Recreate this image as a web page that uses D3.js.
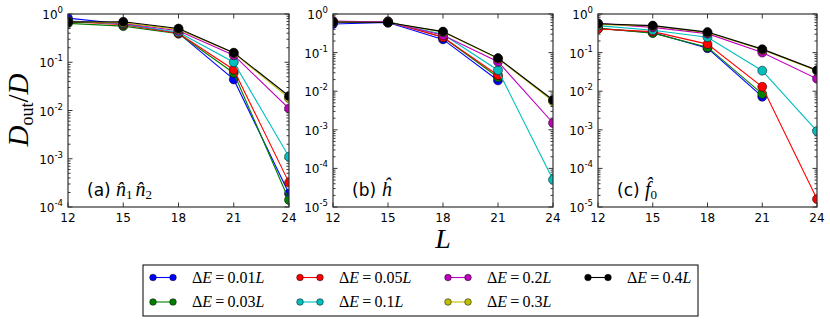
<!DOCTYPE html>
<html>
<head>
<meta charset="utf-8">
<script src="https://cdn.jsdelivr.net/npm/d3@7"></script>
<style>
  body { margin: 0; background: #fff; }
  svg { display: block; }
</style>
</head>
<body>
<div id="chart"></div>
<script>
// system sizes L on the x axis
var sizes = [12, 15, 18, 21, 24];

// legend labels (energy window) and colours
var windows = ["0.01", "0.03", "0.05", "0.1", "0.2", "0.3", "0.4"];
var colors  = ["#0000ff", "#008000", "#ff0000", "#00bfbf", "#bf00bf", "#bfbf00", "#000000"];

// panel (a) n1 n2
var dataA = [
  [0.82, 0.62, 0.40, 0.044, 1.9e-4],
  [0.64, 0.56, 0.39, 0.060, 1.4e-4],
  [0.70, 0.60, 0.40, 0.070, 3.2e-4],
  [0.72, 0.62, 0.42, 0.100, 1.1e-3],
  [0.70, 0.64, 0.45, 0.140, 0.011],
  [0.68, 0.66, 0.48, 0.155, 0.018],
  [0.68, 0.69, 0.50, 0.158, 0.020]
];
// panel (b) h
var dataB = [
  [0.55, 0.60, 0.22, 0.019, null],
  [0.60, 0.65, 0.25, 0.023, null],
  [0.62, 0.63, 0.25, 0.026, null],
  [0.62, 0.62, 0.30, 0.035, 5.1e-5],
  [0.66, 0.62, 0.28, 0.058, 0.0015],
  [0.62, 0.60, 0.34, 0.070, 0.0055],
  [0.62, 0.60, 0.35, 0.072, 0.0059]
];
// panel (c) f0
var dataC = [
  [0.42, 0.33, 0.130, 0.0072, null],
  [0.43, 0.32, 0.138, 0.0085, null],
  [0.41, 0.35, 0.166, 0.013, 1.6e-5],
  [0.50, 0.38, 0.250, 0.034, 9.3e-4],
  [0.57, 0.45, 0.310, 0.100, 0.021],
  [0.54, 0.49, 0.330, 0.118, 0.034],
  [0.56, 0.50, 0.340, 0.123, 0.035]
];

(function() {
  var panels = [
    { data: dataA, x0: 68,  x1: 289, minExp: -4, tag: "a" },
    { data: dataB, x0: 333, x1: 553, minExp: -5, tag: "b" },
    { data: dataC, x0: 598, x1: 817, minExp: -5, tag: "c" }
  ];

  var W = 830, H = 325;
  var plotTop = 14, plotBottom = 207;
  var sans = "'DejaVu Sans', sans-serif";
  var serif = "'Liberation Serif', 'DejaVu Serif', serif";

  var svg = d3.select("#chart").append("svg")
    .attr("width", W).attr("height", H);

  panels.forEach(function(p, pi) {
    var x = d3.scaleLinear().domain([12, 24]).range([p.x0, p.x1]);
    var y = d3.scaleLog().domain([Math.pow(10, p.minExp), 1]).range([plotBottom, plotTop]);

    var g = svg.append("g");
    var clipId = "clip" + pi;
    svg.append("clipPath").attr("id", clipId)
      .append("rect").attr("x", p.x0).attr("y", plotTop)
      .attr("width", p.x1 - p.x0).attr("height", plotBottom - plotTop);

    // ticks (inward, all four sides)
    var tk = g.append("g").attr("stroke", "#000").attr("stroke-width", 0.8);
    sizes.forEach(function(L) {
      var xx = x(L);
      tk.append("line").attr("x1", xx).attr("x2", xx).attr("y1", plotBottom).attr("y2", plotBottom - 4.5);
      tk.append("line").attr("x1", xx).attr("x2", xx).attr("y1", plotTop).attr("y2", plotTop + 4.5);
    });
    for (var e = p.minExp; e <= 0; e++) {
      var yy = y(Math.pow(10, e));
      tk.append("line").attr("x1", p.x0).attr("x2", p.x0 + 4.5).attr("y1", yy).attr("y2", yy);
      tk.append("line").attr("x1", p.x1).attr("x2", p.x1 - 4.5).attr("y1", yy).attr("y2", yy);
      if (e < 0) {
        for (var m = 2; m <= 9; m++) {
          var ym = y(m * Math.pow(10, e));
          tk.append("line").attr("x1", p.x0).attr("x2", p.x0 + 2.5).attr("y1", ym).attr("y2", ym);
          tk.append("line").attr("x1", p.x1).attr("x2", p.x1 - 2.5).attr("y1", ym).attr("y2", ym);
        }
      }
    }

    // tick labels
    sizes.forEach(function(L) {
      g.append("text").attr("x", x(L)).attr("y", plotBottom + 15)
        .attr("text-anchor", "middle").attr("font-family", sans).attr("font-size", 12)
        .text(L);
    });
    for (var e2 = p.minExp; e2 <= 0; e2++) {
      var t = g.append("text").attr("x", p.x0 - 5).attr("y", y(Math.pow(10, e2)) + 5)
        .attr("text-anchor", "end").attr("font-family", sans).attr("font-size", 12);
      t.append("tspan").text("10");
      t.append("tspan").attr("dy", -6).attr("font-size", 8.5).text(e2 === 0 ? "0" : "-" + (-e2));
    }

    // series
    var line = d3.line()
      .defined(function(d) { return d.v != null; })
      .x(function(d) { return x(d.L); })
      .y(function(d) { return y(d.v); });
    var plot = g.append("g").attr("clip-path", "url(#" + clipId + ")");
    p.data.forEach(function(vals, si) {
      var pts = vals.map(function(v, i) { return { L: sizes[i], v: v }; });
      plot.append("path").datum(pts).attr("d", line)
        .attr("fill", "none").attr("stroke", colors[si]).attr("stroke-width", 1.1);
      plot.selectAll(null).data(pts.filter(function(d) { return d.v != null; }))
        .enter().append("circle")
        .attr("cx", function(d) { return x(d.L); })
        .attr("cy", function(d) { return y(d.v); })
        .attr("r", 4.5)
        .attr("fill", colors[si]).attr("stroke", "#000").attr("stroke-width", 0.5);
    });

    // frame
    g.append("rect").attr("x", p.x0).attr("y", plotTop)
      .attr("width", p.x1 - p.x0).attr("height", plotBottom - plotTop)
      .attr("fill", "none").attr("stroke", "#333").attr("stroke-width", 1.2);

    // panel label
    var lab = g.append("text").attr("x", p.x0 + 19).attr("y", plotBottom - 11)
      .attr("font-family", sans).attr("font-size", 17);
    lab.append("tspan").text("(" + p.tag + ") ");
    var mathSize = 20, subSize = 13;
    if (p.tag === "a") {
      lab.append("tspan").attr("font-family", serif).attr("font-style", "italic").attr("font-size", mathSize).text("n\u0302");
      lab.append("tspan").attr("font-family", serif).attr("font-size", subSize).attr("dy", 3).text("1");
      lab.append("tspan").attr("font-family", serif).attr("font-style", "italic").attr("font-size", mathSize).attr("dy", -3).attr("dx", 3).text("n\u0302");
      lab.append("tspan").attr("font-family", serif).attr("font-size", subSize).attr("dy", 3).text("2");
    } else if (p.tag === "b") {
      lab.append("tspan").attr("font-family", serif).attr("font-style", "italic").attr("font-size", mathSize).text("h\u0302");
    } else {
      lab.append("tspan").attr("font-family", serif).attr("font-style", "italic").attr("font-size", mathSize).text("f\u0302");
      lab.append("tspan").attr("font-family", serif).attr("font-size", subSize).attr("dy", 3).text("0");
    }
  });

  // y axis label
  var yl = svg.append("text").attr("transform", "translate(28,110) rotate(-90)")
    .attr("text-anchor", "middle").attr("font-family", serif).attr("font-size", 29);
  yl.append("tspan").attr("font-style", "italic").text("D");
  yl.append("tspan").attr("font-size", 18).attr("dy", 5).text("out");
  yl.append("tspan").attr("dy", -5).text("/");
  yl.append("tspan").attr("font-style", "italic").text("D");

  // x axis label
  svg.append("text").attr("x", 443).attr("y", 248).attr("text-anchor", "middle")
    .attr("font-family", serif).attr("font-style", "italic").attr("font-size", 28).text("L");

  // legend
  var lg = svg.append("g");
  lg.append("rect").attr("x", 143).attr("y", 265).attr("width", 555).attr("height", 51)
    .attr("fill", "#fff").attr("stroke", "#000").attr("stroke-width", 1);
  var colX = [153, 300, 448, 588];
  var rowY = [277.5, 302];
  colors.forEach(function(c, si) {
    var cx = colX[Math.floor(si / 2)], cy = rowY[si % 2];
    lg.append("line").attr("x1", cx).attr("x2", cx + 20).attr("y1", cy).attr("y2", cy)
      .attr("stroke", c).attr("stroke-width", 1.1);
    [cx, cx + 20].forEach(function(px) {
      lg.append("circle").attr("cx", px).attr("cy", cy).attr("r", 3.3)
        .attr("fill", c).attr("stroke", "#000").attr("stroke-width", 0.5);
    });
    var t = lg.append("text").attr("x", cx + 39).attr("y", cy + 5)
      .attr("font-family", serif).attr("font-size", 16);
    t.append("tspan").text("\u0394");
    t.append("tspan").attr("font-style", "italic").text("E");
    t.append("tspan").text("\u2009=\u2009" + windows[si]);
    t.append("tspan").attr("font-style", "italic").text("L");
  });
})();
</script>
</body>
</html>
